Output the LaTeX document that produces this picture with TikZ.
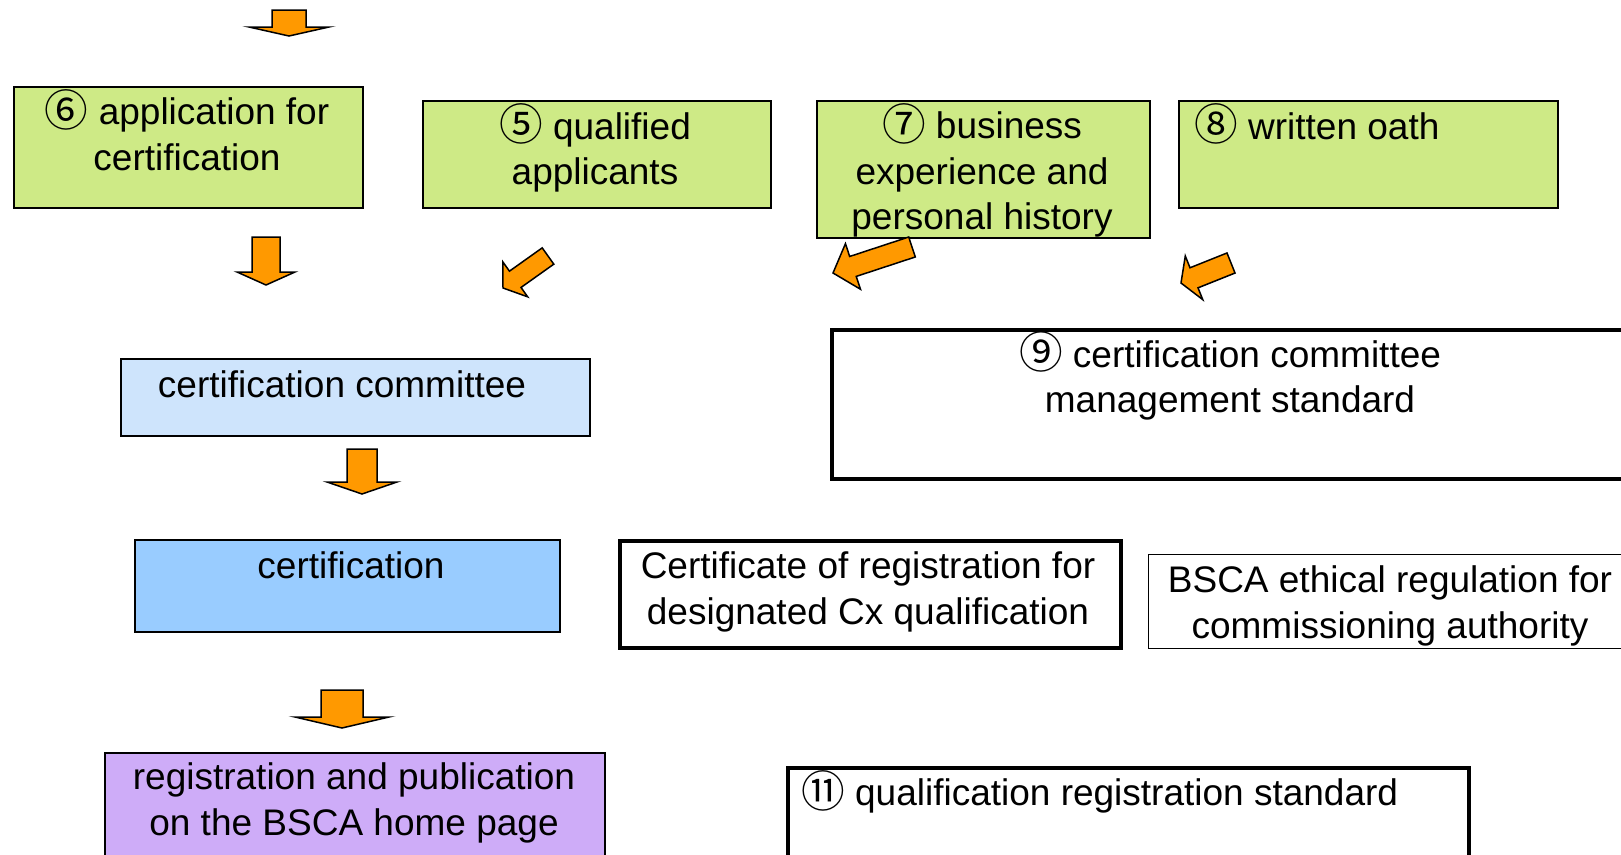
\documentclass[tikz,border=0pt]{standalone}
\usepackage{fontspec}
\setmainfont{Liberation Sans}
\newfontfamily\cjk[Scale=1.18]{Noto Sans CJK JP}
\usetikzlibrary{calc}

\definecolor{appgreen}{RGB}{206,234,134}
\definecolor{commblue}{RGB}{206,228,252}
\definecolor{certblue}{RGB}{153,204,255}
\definecolor{regviolet}{RGB}{206,172,248}
\definecolor{arrorange}{RGB}{255,153,0}

\newcommand\circnum[1]{\raisebox{-0.04em}{\cjk #1}}
\newcommand\blockarrow[5]{%
  \coordinate (ba-h) at ($(#2)!#5!(#1)$);
  \draw[blockarr] ($(#1)!#3!90:(#2)$) -- ($(ba-h)!#3!90:(#2)$) -- ($(ba-h)!#4!90:(#2)$) -- (#2)
    -- ($(ba-h)!#4!-90:(#2)$) -- ($(ba-h)!#3!-90:(#2)$) -- ($(#1)!#3!-90:(#2)$) -- cycle;}

\begin{document}
\begin{tikzpicture}[x=1pt,y=-1pt,
    font=\fontsize{37pt}{45.5pt}\selectfont,
    box/.style={draw,anchor=north west,inner sep=0pt},
    gbox/.style={box,fill=appgreen,line width=1.6pt},
    thick box/.style={box,fill=white,line width=3.5pt},
    txt/.style={inner sep=0pt,align=center},
    blockarr/.style={draw,fill=arrorange,line width=1.5pt,line join=miter}]
\useasboundingbox (0,0) rectangle (1621,854);
\clip (0,0) rectangle (1621,854);

\node [gbox,minimum width=349pt,minimum height=121pt] (apply) at (13,86) {};
\node [txt] (applytx) at (187,130) {\circnum{⑥} application for\\certification};
\node [gbox,minimum width=348pt,minimum height=107pt] (qual) at (422,100) {};
\node [txt] (qualtx) at (595,148) {\circnum{⑤} qualified\\applicants};
\node [gbox,minimum width=333pt,minimum height=137pt] (hist) at (816,100) {};
\node [txt] (histtx) at (982,170.5) {\circnum{⑦} business\\experience and\\personal history};
\node [gbox,minimum width=379pt,minimum height=107pt] (oath) at (1178,100) {};
\node [txt,anchor=west] (oathtx) at (1194,124) {\circnum{⑧} written oath};

\coordinate (top-s) at (289,10); \coordinate (top-e) at (289,36);
\blockarrow{top-s}{top-e}{17pt}{40pt}{9pt}
\coordinate (a6-s) at (266,237); \coordinate (a6-e) at (266,285);
\blockarrow{a6-s}{a6-e}{14pt}{29pt}{13pt}
\coordinate (a5-s) at (548,256); \coordinate (a5-e) at (503,288);
\blockarrow{a5-s}{a5-e}{10pt}{21.5pt}{15pt}
\coordinate (a7-s) at (912,247); \coordinate (a7-e) at (833,273);
\blockarrow{a7-s}{a7-e}{10.5pt}{24pt}{21pt}
\coordinate (a8-s) at (1231,263); \coordinate (a8-e) at (1181,283);
\blockarrow{a8-s}{a8-e}{10.8pt}{23.5pt}{14pt}

\node [box,fill=commblue,line width=1.6pt,minimum width=469pt,minimum height=77pt] (comm) at (120,358) {};
\node [txt] (commtx) at (342,384) {certification committee};
\node [thick box,minimum width=820pt,minimum height=149pt] (std9) at (830,328) {};
\node [txt] (std9tx) at (1230,376) {\circnum{⑨} certification committee\\management standard};

\coordinate (ac-s) at (362,449); \coordinate (ac-e) at (362,494);
\blockarrow{ac-s}{ac-e}{15pt}{35pt}{12pt}

\node [box,fill=certblue,line width=1.6pt,minimum width=425pt,minimum height=92pt] (cert) at (134,539) {};
\node [txt] (certtx) at (351,565) {certification};
\node [thick box,minimum width=501pt,minimum height=107pt] (cxreg) at (618,539) {};
\node [txt] (cxregtx) at (868,592) {Certificate of registration for\\designated Cx qualification};
\node [box,fill=white,line width=1.2pt,minimum width=500pt,minimum height=94pt] (ethic) at (1148,554) {};
\node [txt] (ethictx) at (1390,606) {BSCA ethical regulation for\\commissioning authority};

\coordinate (ar-s) at (342,690); \coordinate (ar-e) at (342,728);
\blockarrow{ar-s}{ar-e}{21pt}{47pt}{11pt}

\node [box,fill=regviolet,line width=1.6pt,minimum width=500pt,minimum height=120pt] (publ) at (104,752) {};
\node [txt] (publtx) at (354,803) {registration and publication\\on the BSCA home page};
\node [thick box,minimum width=681pt,minimum height=110pt] (std11) at (786,766) {};
\node [txt,anchor=west] (std11tx) at (801,792) {\circnum{⑪} qualification registration standard};
\end{tikzpicture}
\end{document}
